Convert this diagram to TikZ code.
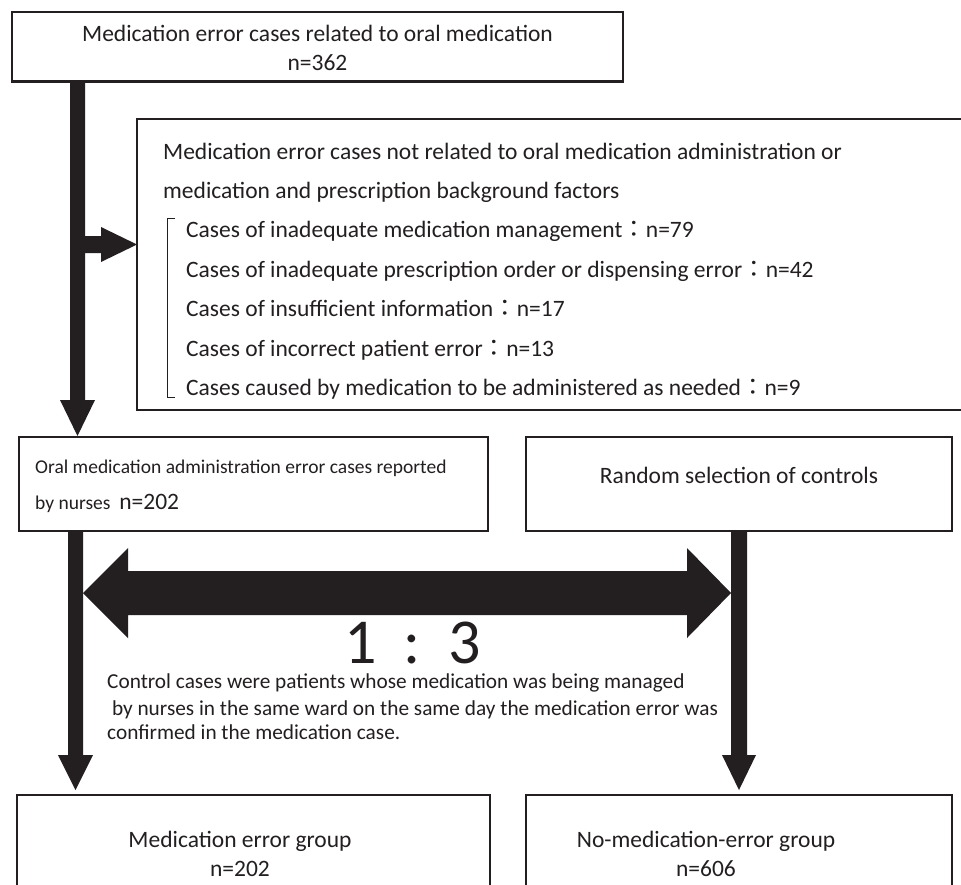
\documentclass[tikz,border=0pt]{standalone}
\usepackage{fontspec}
\setmainfont{Carlito}
\newfontfamily\cjkfont{Noto Sans CJK JP}
\newcommand{\fwcolon}{{\cjkfont ：}}
\usetikzlibrary{calc}
\definecolor{ink}{HTML}{231F20}
\begin{document}
\begin{tikzpicture}[x=1pt,y=-1pt,
  box/.style={draw=ink, line width=2.2pt, fill=white, rectangle, inner sep=0pt},
  txt/.style={text=ink, inner sep=0pt, font=\fontsize{23.5}{28}\selectfont},
  small/.style={text=ink, inner sep=0pt, font=\fontsize{19.5}{24}\selectfont},
  para/.style={text=ink, inner sep=0pt, text height=14pt, text depth=4pt, font=\fontsize{21.3}{25}\selectfont},
  blockarrow/.style={fill=ink, draw=none}
]
\useasboundingbox[fill=white] (0,0) rectangle (961,884);

% boxes
\node[box, minimum width=611pt, minimum height=69.5pt] (top) at (317.5,46.75) {};
\node[box, minimum width=838pt, minimum height=291pt] (excl) at (556,264.5) {};
\node[box, minimum width=469pt, minimum height=94pt] (oral) at (253.5,484) {};
\node[box, minimum width=426pt, minimum height=94pt] (rand) at (739,484) {};
\node[box, minimum width=473pt, minimum height=105pt] (meg) at (253.5,847.5) {};
\node[box, minimum width=426pt, minimum height=105pt] (nmeg) at (739,847.5) {};

% top box text
\node[txt, anchor=base] (t1) at (317.5,41.5) {Medication error cases related to oral medication};
\node[txt, anchor=base] (t2) at (317.5,70) {n=362};

% exclusion box text
\node[txt, anchor=base west] (e1) at (163,159) {Medication error cases not related to oral medication administration or};
\node[txt, anchor=base west] (e2) at (163,198) {medication and prescription background factors};
\node[txt, anchor=base west] (i1) at (186,237) {Cases of inadequate medication management\fwcolon n=79};
\node[txt, anchor=base west] (i2) at (186,277) {Cases of inadequate prescription order or dispensing error\fwcolon n=42};
\node[txt, anchor=base west] (i3) at (186,316) {Cases of insufficient information\fwcolon n=17};
\node[txt, anchor=base west] (i4) at (186,356) {Cases of incorrect patient error\fwcolon n=13};
\node[txt, anchor=base west] (i5) at (186,395) {Cases caused by medication to be administered as needed\fwcolon n=9};
\draw[ink, line width=1pt] (175,218) -- (167,218) -- (167,397) -- (175,397);

% oral box text
\node[small, anchor=base west] (o1) at (35,473) {Oral medication administration error cases reported};
\node[small, anchor=base west] (o2) at (35,509) {by nurses\ \ {\fontsize{23.5}{28}\selectfont n=202}};

% random box text
\node[txt, anchor=base] (r1) at (739,483) {Random selection of controls};

% bottom boxes text
\node[txt, anchor=base] (m1) at (240,847) {Medication error group};
\node[txt, anchor=base] (m2) at (240,876) {n=202};
\node[txt, anchor=base] (n1) at (706,847) {No-medication-error group};
\node[txt, anchor=base] (n2) at (706,876) {n=606};

% ratio
\node[text=ink, inner sep=0pt, anchor=base, text depth=0pt, font=\fontsize{64}{70}\selectfont] (ratio) at (412.5,663) {1\hspace{27pt}:\hspace{27pt}3};

% paragraph
\node[para, anchor=base west] (p1) at (107,688) {Control cases were patients whose medication was being managed};
\node[para, anchor=base west] (p2) at (107,715) {\ by nurses in the same ward on the same day the medication error was};
\node[para, anchor=base west] (p3) at (107,739) {confirmed in the medication case.};

% block arrows
\fill[blockarrow] (70,81) -- (85,81) -- (85,236) -- (101,236) -- (101,227) -- (137,244.5) -- (101,262) -- (101,253) -- (85,253) -- (85,400) -- (95,400) -- (77.5,436) -- (60,400) -- (70,400) -- cycle;
\fill[blockarrow] (68,531) -- (83,531) -- (83,755) -- (93,755) -- (75.5,790) -- (58,755) -- (68,755) -- cycle;
\fill[blockarrow] (731,531) -- (747,531) -- (747,755) -- (756,755) -- (739,790) -- (722,755) -- (731,755) -- cycle;
\fill[blockarrow] (83,593) -- (128,548) -- (128,571) -- (687,571) -- (687,548) -- (731,593) -- (687,638) -- (687,615) -- (128,615) -- (128,638) -- cycle;
\end{tikzpicture}
\end{document}
